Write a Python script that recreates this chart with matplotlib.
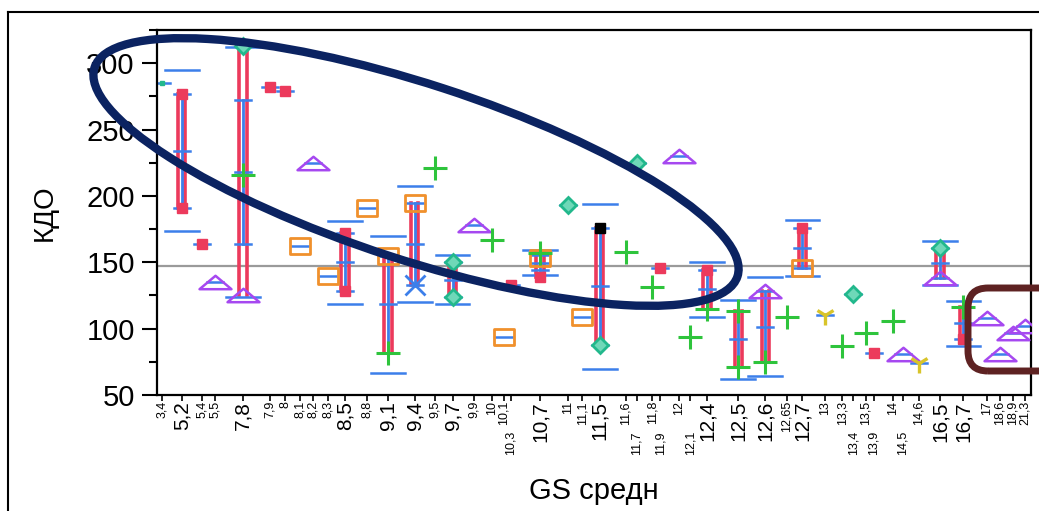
import matplotlib
matplotlib.use("Agg")
import matplotlib.pyplot as plt
import numpy as np
from matplotlib.path import Path
from matplotlib.patches import Ellipse, FancyBboxPatch
from matplotlib.lines import Line2D
from matplotlib.transforms import ScaledTranslation

plt.rcParams["font.family"] = ["Liberation Sans", "DejaVu Sans"]

# GS levels along the x axis
GS = ["3,4", "5,2", "5,4", "5,5", "7,8", "7,9", "8", "8,1", "8,2", "8,3",
      "8,5", "8,8", "9,1", "9,4", "9,5", "9,7", "9,9", "10", "10,1", "10,3",
      "10,7", "11", "11,1", "11,5", "11,6", "11,7", "11,8", "11,9", "12", "12,1",
      "12,4", "12,5", "12,6", "12,65", "12,7", "13", "13,3", "13,4", "13,5", "13,9",
      "14", "14,5", "14,6", "16,5", "16,7", "17", "18,6", "18,9", "21,3"]

# observations (GS level, КДО), one list per marker group
RED_SQ = [("5,2", 277), ("5,2", 191), ("5,4", 164), ("7,9", 282), ("8", 279),
          ("8,5", 172), ("8,5", 128), ("10,3", 133), ("10,7", 139), ("11,9", 146),
          ("12,4", 144), ("12,7", 176), ("13,9", 82), ("16,7", 92)]
TEAL_D = [("7,8", 313), ("9,7", 150), ("9,7", 124), ("11", 193), ("11,5", 88),
          ("11,7", 225), ("13,4", 126), ("16,5", 161)]
TEAL_PT = [("3,4", 285)]
PURPLE_TRI = [("5,5", 135), ("7,8", 125), ("8,2", 225), ("9,9", 178), ("12", 230),
              ("12,6", 128), ("14,5", 81), ("16,5", 138), ("17", 108), ("18,6", 81),
              ("18,9", 97), ("21,3", 102)]
ORANGE_SQ = [("8,1", 162), ("8,3", 140), ("8,8", 191), ("9,1", 155), ("9,4", 195),
             ("10,1", 94), ("10,7", 153), ("11,1", 109), ("12,7", 146)]
GREEN_PLUS = [("7,8", 216), ("9,1", 82), ("9,5", 221), ("10", 167), ("10,7", 157),
              ("11,6", 158), ("11,8", 131), ("12,1", 94), ("12,4", 115), ("12,5", 113),
              ("12,5", 71), ("12,6", 75), ("12,65", 109), ("13,3", 87), ("13,5", 97),
              ("14", 106), ("16,7", 116)]
YELLOW_Y = [("13", 110), ("14,6", 74)]
BLACK_SQ = [("11,5", 176)]
BLUE_X = [("9,4", 133)]
GRAND_MEAN = 147.5

# horizontal placement of each level (cell units, axis spans 0..120)
CAT_SLOT = [0.7, 3.4, 6.2, 8.0, 11.8, 15.5, 17.6, 19.6, 21.4, 23.5,
            25.8, 28.8, 31.7, 35.4, 38.2, 40.6, 43.5, 46.0, 47.6, 48.6,
            52.6, 56.4, 58.4, 60.8, 64.4, 65.9, 68.0, 69.1, 71.7, 73.2,
            75.5, 79.8, 83.5, 86.5, 88.6, 91.7, 94.1, 95.6, 97.3, 98.4,
            101.1, 102.4, 104.6, 107.5, 110.7, 114.0, 115.7, 117.5, 119.2]

RED = "#ec3a5c"
BLUE = "#3c7fea"
pos = dict(zip(GS, CAT_SLOT))

tri = Path([(-1, -0.42), (1, -0.42), (0, 0.42), (-1, -0.42)],
           [Path.MOVETO, Path.LINETO, Path.LINETO, Path.CLOSEPOLY])
box = Path([(-1, -0.75), (1, -0.75), (1, 0.75), (-1, 0.75), (-1, -0.75)],
           [Path.MOVETO, Path.LINETO, Path.LINETO, Path.LINETO, Path.CLOSEPOLY])

fig = plt.figure(figsize=(10.39, 5.11), dpi=100)
ax = fig.add_axes([157 / 1039, 116 / 511, 874 / 1039, 365 / 511])

ax.axhline(GRAND_MEAN, color="#9a9a9a", lw=1.6, zorder=0.5)

series = [RED_SQ, TEAL_D, TEAL_PT, PURPLE_TRI, ORANGE_SQ, GREEN_PLUS, YELLOW_Y,
          BLACK_SQ, BLUE_X]
cells = {}
for s in series:
    for lvl, v in s:
        cells.setdefault(lvl, []).append(v)

# range rails (red), mean ± SE (blue), mean ± SD (wide blue)
RAIL, SHORT, WIDE = 0.5, 1.1, 2.3
big = set()
for lvl, vals in cells.items():
    x = pos[lvl]
    v = np.array(vals, float)
    if len(v) == 1:
        ax.plot([x - SHORT, x + SHORT], [v[0], v[0]], color=BLUE, lw=1.8, zorder=2)
        continue
    big.add(lvl)
    m, sd = v.mean(), v.std(ddof=1)
    se = sd / np.sqrt(len(v))
    for dx in (-RAIL, RAIL):
        ax.plot([x + dx, x + dx], [v.min(), v.max()], color=RED, lw=2.6, zorder=2)
    ax.plot([x, x], [m - se, m + se], color=BLUE, lw=2.0, zorder=2.1)
    for yy in (m - se, m, m + se):
        ax.plot([x - SHORT, x + SHORT], [yy, yy], color=BLUE, lw=1.8, zorder=2.1)
    for yy in (m - sd, m + sd):
        ax.plot([x - WIDE, x + WIDE], [yy, yy], color=BLUE, lw=1.8, zorder=2.1)


def draw(obs, **kw):
    ax.plot([pos[l] for l, _ in obs], [v for _, v in obs], ls="none", zorder=3, **kw)


draw(RED_SQ, marker="s", ms=7.5, mfc=RED, mec=RED)
draw(BLACK_SQ, marker="s", ms=7.5, mfc="black", mec="black")
draw(TEAL_D, marker="D", ms=8, mfc="#6fd8b8", mec="#22b88c", mew=2)
draw(TEAL_PT, marker="s", ms=3.5, mfc="#22b88c", mec="#22b88c")
draw(PURPLE_TRI, marker=tri, ms=23, mfc="none", mec="#a648f0", mew=1.8)
draw(ORANGE_SQ, marker=box, ms=15, mfc="none", mec="#f0902c", mew=2)
draw(GREEN_PLUS, marker="+", ms=17, mec="#2ec43c", mew=2.2)
draw(YELLOW_Y, marker="1", ms=14, mec="#d8c42a", mew=2.4)
draw(BLUE_X, marker="x", ms=15, mec=BLUE, mew=2)

ax.set_xlim(0, 120)
ax.set_ylim(50, 325)
ax.set_yticks(np.arange(50, 301, 50))
ax.set_yticks(np.arange(75, 326, 50), minor=True)
ax.tick_params(axis="y", which="major", length=11, width=1.5, labelsize=21, pad=5)
ax.tick_params(axis="y", which="minor", length=6, width=1.5)
ax.set_xticks(CAT_SLOT)
ax.set_xticklabels([])
ax.tick_params(axis="x", length=4, width=1.2)
for sp in ax.spines.values():
    sp.set_linewidth(1.6)

# level labels: larger for multi-observation cells, crowded neighbours drop a row
base = ax.get_xaxis_transform()
prev = None
for lvl, x in zip(GS, CAT_SLOT):
    drop = prev is not None and x - prev < 1.6 and lvl not in big
    off = ScaledTranslation(0, -0.06 - (0.3 if drop else 0), fig.dpi_scale_trans)
    ax.text(x, 0, lvl, rotation=90, ha="center", va="top",
            fontsize=15 if lvl in big else 9, transform=base + off)
    prev = None if drop else x

ax.set_ylabel("КДО", fontsize=20)
ax.yaxis.set_label_coords(-0.113, 0.5)
ax.set_xlabel("GS средн", fontsize=21)
ax.xaxis.set_label_coords(0.5, -0.225)

# highlight annotations
fig.add_artist(Ellipse((4.16, 3.39), 6.76, 1.76, angle=-18, fill=False,
                       ec="#0b2361", lw=6, transform=fig.dpi_scale_trans, zorder=10))
fig.add_artist(FancyBboxPatch((9.68, 1.40), 1.2, 0.83,
                              boxstyle="round,pad=0,rounding_size=0.2", fill=False,
                              ec="#5e2222", lw=5, transform=fig.dpi_scale_trans,
                              zorder=10))
fig.add_artist(Line2D([8 / 1039, 8 / 1039], [0, 1 - 12 / 511], color="black", lw=1.5))
fig.add_artist(Line2D([8 / 1039, 1], [1 - 12 / 511, 1 - 12 / 511], color="black", lw=1.5))

fig.savefig("out.png", dpi=100)
